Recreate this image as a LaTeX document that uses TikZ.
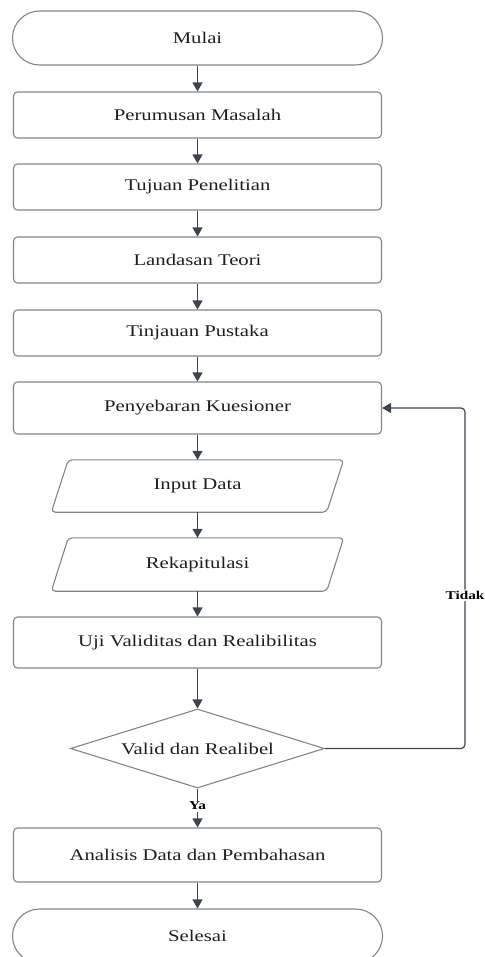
\documentclass[tikz,border=0pt]{standalone}
\usepackage{fontspec}
\setmainfont{Liberation Serif}[FakeStretch=1.27]
\usetikzlibrary{shapes.geometric,shapes.misc,arrows.meta,calc}
\definecolor{bordergray}{HTML}{80858C}
\definecolor{arrowdark}{HTML}{3D4450}
\definecolor{textdark}{HTML}{1E1E1E}
\tikzset{
  procbox/.style={draw=bordergray, line width=1.1pt, rectangle, rounded corners=4pt,
    minimum width=368pt, inner sep=0pt, font=\fontsize{16.3}{18}\selectfont, text=textdark},
  termbox/.style={draw=bordergray, line width=1.1pt, rounded rectangle,
    minimum width=370pt, minimum height=54pt, inner sep=0pt, font=\fontsize{16.3}{18}\selectfont, text=textdark},
  ghost/.style={rectangle, inner sep=0pt, font=\fontsize{16.3}{18}\selectfont, text=textdark},
  decbox/.style={draw=bordergray, line width=1.1pt, diamond, aspect=3.2, minimum width=254pt, minimum height=79pt,
    inner sep=0pt, font=\fontsize{16.3}{18}\selectfont, text=textdark},
  flow/.style={draw=arrowdark, line width=1.2pt, -{Triangle[width=10pt,length=9pt]}},
  lbl/.style={font=\bfseries\fontsize{12}{14}\selectfont, text=black, fill=white, inner sep=1.5pt}
}
\begin{document}
\begin{tikzpicture}[x=1pt,y=-1pt]
\useasboundingbox (0,0) rectangle (484,957);
\clip (0,0) rectangle (484,957);
\node[termbox] (mulai) at (197.5,38) {Mulai};
\node[procbox, minimum height=46pt] (rumus) at (197.5,115) {Perumusan Masalah};
\node[procbox, minimum height=46pt] (tujuan) at (197.5,187) {Tujuan Penelitian};
\node[procbox, minimum height=46pt] (landas) at (197.5,260) {Landasan Teori};
\node[procbox, minimum height=46pt] (tinjau) at (197.5,333) {Tinjauan Pustaka};
\node[procbox, minimum height=52pt] (sebar) at (197.5,408) {Penyebaran Kuesioner};
\node[ghost, minimum width=275pt, minimum height=52pt] (input) at (197.5,486) {Input Data};
\draw[draw=bordergray, line width=1.1pt, rounded corners=4pt]
  ($(input.north west)+(8.5,0)$) -- ($(input.north east)+(8.5,0)$) -- ($(input.south east)+(-8.5,0)$) -- ($(input.south west)+(-8.5,0)$) -- cycle;
\node[ghost, minimum width=275pt, minimum height=53pt] (rekap) at (197.5,564.5) {Rekapitulasi};
\draw[draw=bordergray, line width=1.1pt, rounded corners=4pt]
  ($(rekap.north west)+(8.5,0)$) -- ($(rekap.north east)+(8.5,0)$) -- ($(rekap.south east)+(-8.5,0)$) -- ($(rekap.south west)+(-8.5,0)$) -- cycle;
\node[procbox, minimum height=51pt] (uji) at (197.5,642.5) {Uji Validitas dan Realibilitas};
\node[decbox] (valid) at (197.5,748.5) {Valid dan Realibel};
\node[procbox, minimum height=54pt] (analisis) at (197.5,855) {Analisis Data dan Pembahasan};
\node[termbox] (selesai) at (197.5,936) {Selesai};
\coordinate (c1) at (465,748.5);
\coordinate (c2) at (465,408);
\draw[flow] (mulai.south) -- (rumus.north);
\draw[flow] (rumus.south) -- (tujuan.north);
\draw[flow] (tujuan.south) -- (landas.north);
\draw[flow] (landas.south) -- (tinjau.north);
\draw[flow] (tinjau.south) -- (sebar.north);
\draw[flow] (sebar.south) -- (input.north);
\draw[flow] (input.south) -- (rekap.north);
\draw[flow] (rekap.south) -- (uji.north);
\draw[flow] (uji.south) -- (valid.north);
\draw[flow] (valid.south) -- node[lbl, pos=0.45] (ya) {Ya} (analisis.north);
\draw[flow] (analisis.south) -- (selesai.north);
\draw[flow, rounded corners=4pt] (valid.east) -- (c1) -- node[lbl, pos=0.45] (tidak) {Tidak} (c2) -- (sebar.east);
\end{tikzpicture}
\end{document}
